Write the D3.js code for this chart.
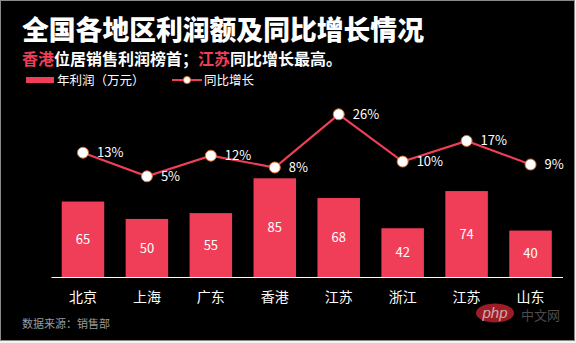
<!DOCTYPE html>
<html><head><meta charset="utf-8">
<script src="https://cdn.jsdelivr.net/npm/d3@7"></script>
<style>
html,body{margin:0;padding:0;background:#f2f2f2;}
svg{display:block;font-family:"Noto Sans CJK SC","Noto Sans",sans-serif;}
</style></head>
<body><svg id="c" width="576" height="343"></svg>
<script>
const categories = ["北京","上海","广东","香港","江苏","浙江","江苏","山东"];
const profit = [65,50,55,85,68,42,74,40];
const growth = [13,5,12,8,26,10,17,9];
const title = "全国各地区利润额及同比增长情况";
const legendNames = ["年利润（万元）","同比增长"];
const source = "数据来源：销售部";

const RED = "#f03e58";
const svg = d3.select("#c");
svg.append("rect").attr("x",0.5).attr("y",0.5).attr("width",574).attr("height",340)
  .attr("fill","#000").attr("stroke","#8a8a8a");

svg.append("text").attr("x",22).attr("y",40).attr("fill","#fff")
  .attr("font-size",26.8).attr("font-weight","900").text(title);

const sub = svg.append("text").attr("x",22).attr("y",65).attr("font-size",16).attr("font-weight","bold");
sub.append("tspan").attr("fill",RED).text("香港");
sub.append("tspan").attr("fill","#fff").text("位居销售利润榜首；");
sub.append("tspan").attr("fill",RED).text("江苏");
sub.append("tspan").attr("fill","#fff").text("同比增长最高。");

// legend
svg.append("rect").attr("x",26).attr("y",77).attr("width",28).attr("height",6).attr("fill",RED);
svg.append("text").attr("x",57).attr("y",84.5).attr("fill","#fff").attr("font-size",12.5).text(legendNames[0]);
svg.append("line").attr("x1",172).attr("x2",202).attr("y1",80).attr("y2",80).attr("stroke",RED).attr("stroke-width",2);
svg.append("circle").attr("cx",187).attr("cy",80).attr("r",3.6).attr("fill","#fff").attr("stroke","#e0702a").attr("stroke-width",1);
svg.append("text").attr("x",204).attr("y",84.5).attr("fill","#fff").attr("font-size",12.5).text(legendNames[1]);

const x = d3.scaleBand().domain(d3.range(categories.length)).range([51,562.5]).paddingInner(0.335).paddingOuter(0.1675);
const y = d3.scaleLinear().domain([0,100]).range([277,160.9]);
const y2 = d3.scaleLinear().domain([0,30]).range([191.1,102.5]);

svg.selectAll("rect.bar").data(profit).join("rect").attr("class","bar")
  .attr("x",(d,i)=>x(i)).attr("width",x.bandwidth())
  .attr("y",d=>y(d)).attr("height",d=>y(0)-y(d)).attr("fill",RED);

svg.selectAll("text.bl").data(profit).join("text").attr("class","bl")
  .attr("x",(d,i)=>x(i)+x.bandwidth()/2).attr("y",d=>(y(d)+y(0))/2)
  .attr("dy","0.35em").attr("text-anchor","middle").attr("fill","#fff").attr("font-size",13)
  .text(d=>d);

const xAxis = d3.axisBottom(x).tickSize(0).tickPadding(15).tickFormat(i=>categories[i]);
const gx = svg.append("g").attr("transform","translate(0,277)").call(xAxis);
gx.select(".domain").attr("stroke","#fff").attr("stroke-width",1.2);
gx.selectAll("text").attr("fill","#fff").attr("font-size",14).attr("font-family","\"Noto Sans CJK SC\",sans-serif");

const cx = i=>x(i)+x.bandwidth()/2;
svg.append("path").datum(growth)
  .attr("d",d3.line().x((d,i)=>cx(i)).y(d=>y2(d)))
  .attr("fill","none").attr("stroke",RED).attr("stroke-width",2.2);
svg.selectAll("circle.pt").data(growth).join("circle").attr("class","pt")
  .attr("cx",(d,i)=>cx(i)).attr("cy",d=>y2(d)).attr("r",5.5)
  .attr("fill","#fff").attr("stroke","#e0702a").attr("stroke-width",1);
svg.selectAll("text.pl").data(growth).join("text").attr("class","pl")
  .attr("x",(d,i)=>cx(i)+14).attr("y",d=>y2(d)).attr("dy","0.35em")
  .attr("fill","#fff").attr("font-size",13).text(d=>d+"%");

svg.append("text").attr("x",22).attr("y",328).attr("fill","#9a9a9a").attr("font-size",11).text(source);

// watermark
const wm = svg.append("g").attr("opacity",0.85);
wm.append("ellipse").attr("cx",495).attr("cy",313).attr("rx",19).attr("ry",9.5).attr("fill","#b8232c");
wm.append("text").attr("x",495).attr("y",317.5).attr("text-anchor","middle").attr("fill","#f4c9c9")
  .attr("font-size",15).attr("font-style","italic").attr("font-family","Arial,Liberation Sans,sans-serif").text("php");
wm.append("text").attr("x",521).attr("y",320).attr("fill","#5a5a5a").attr("font-size",13).text("中文网");
</script></body></html>
